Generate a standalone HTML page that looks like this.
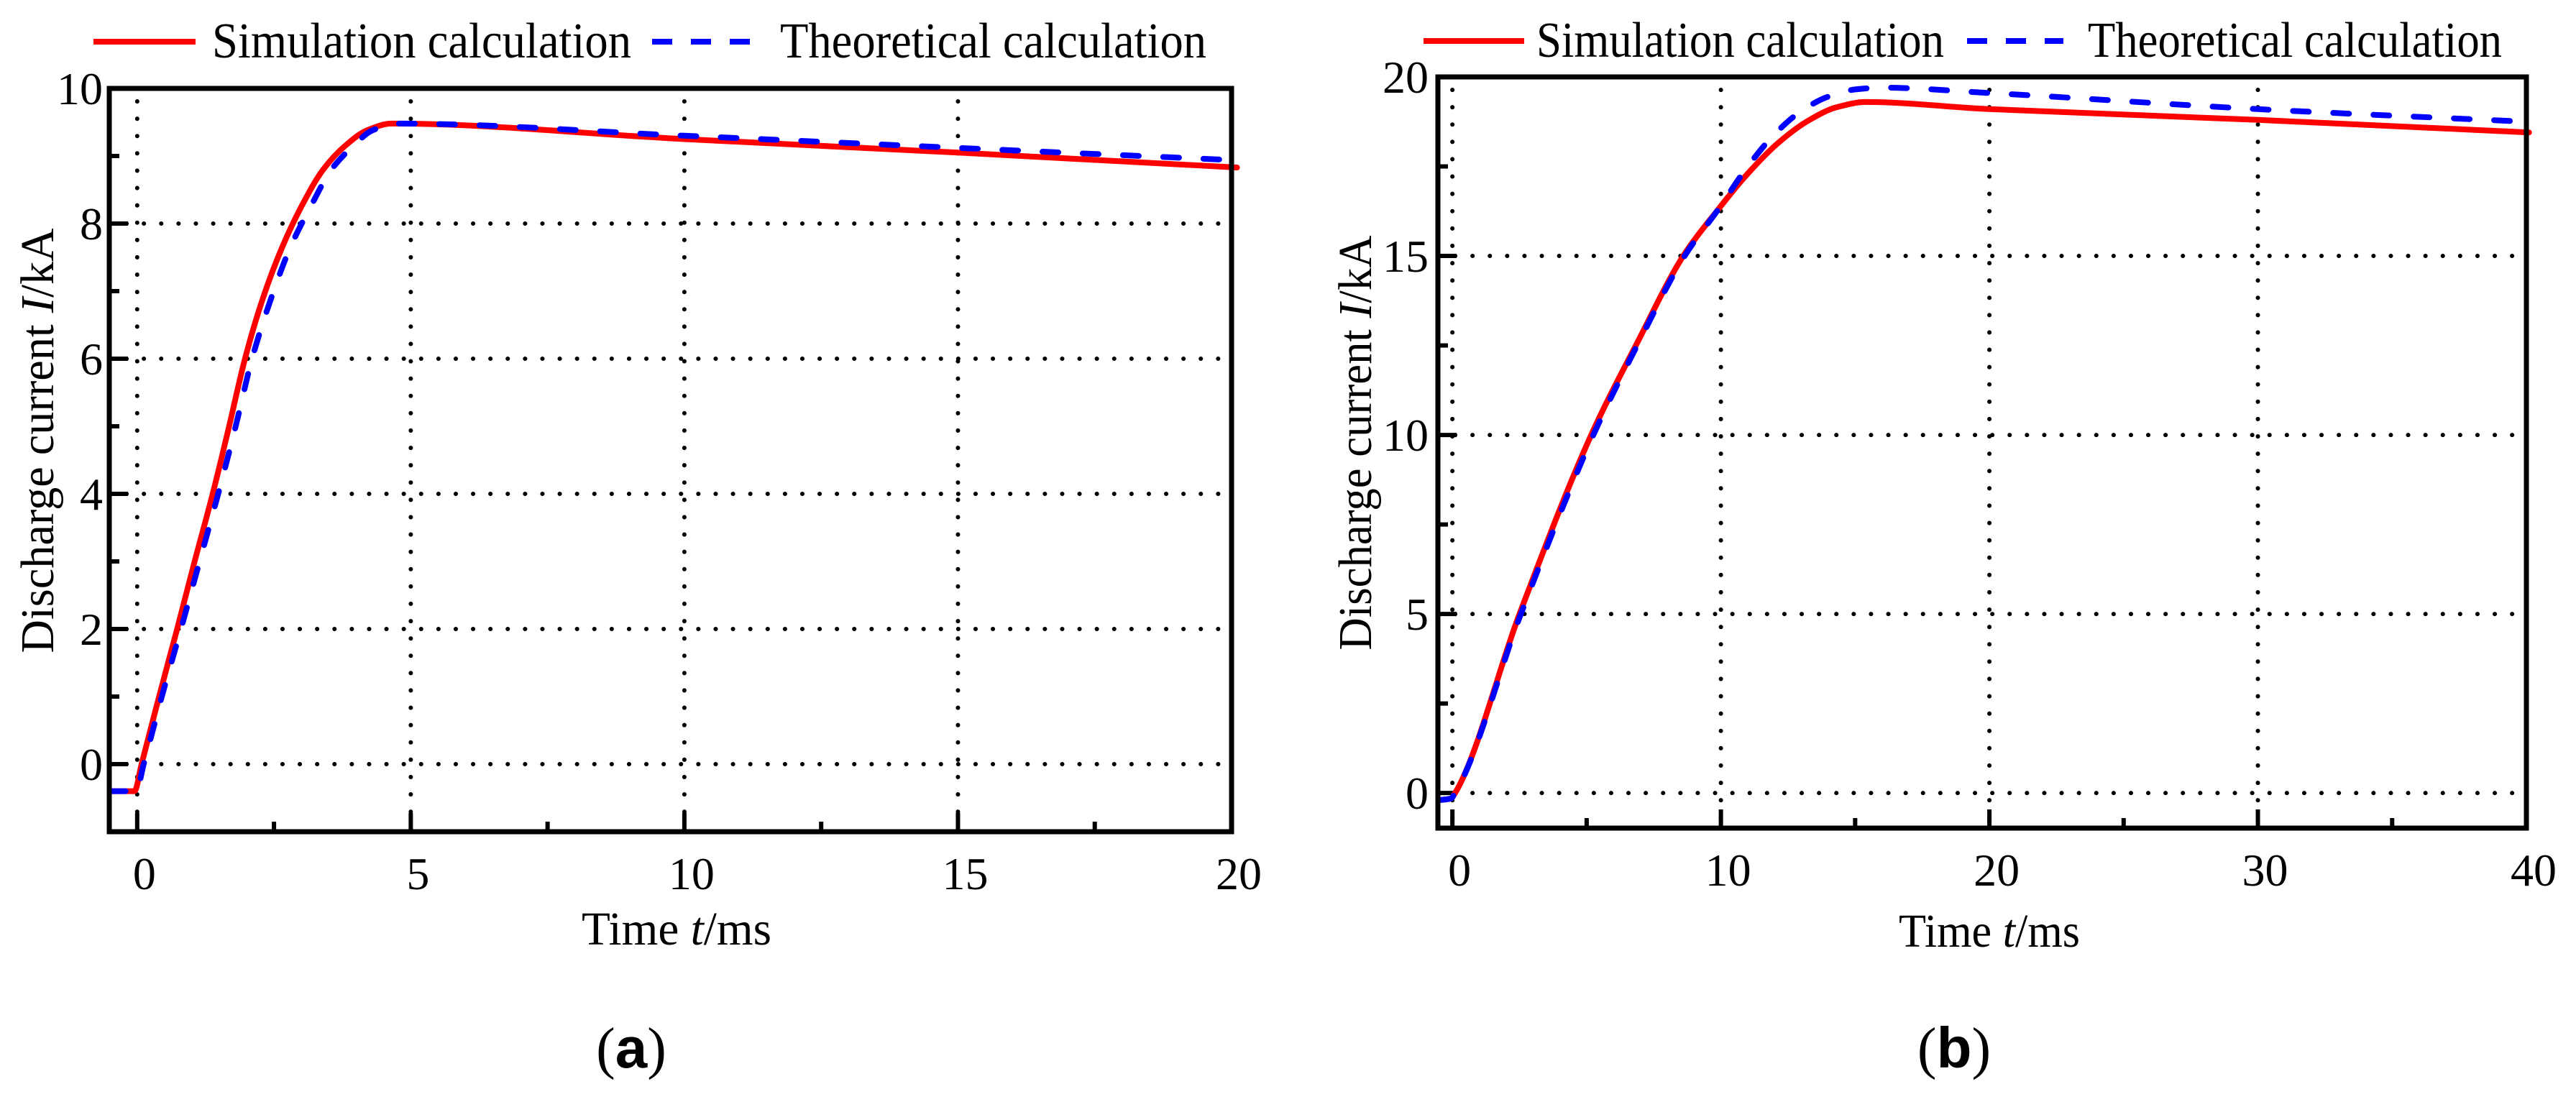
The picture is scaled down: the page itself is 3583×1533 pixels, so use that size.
<!DOCTYPE html>
<html><head><meta charset="utf-8"><style>
html,body{margin:0;padding:0;background:#fff;}
svg{display:block;}
text{font-family:"Liberation Serif",serif;fill:#000;}
</style></head><body>
<svg id="fig" width="3583" height="1533" viewBox="0 0 3583 1533" xmlns="http://www.w3.org/2000/svg"></svg>
<script>
// ---- Chart (a) data ----
const aSimT = [-0.5,-0.05,0.08,0.4,0.73,1.05,1.38,1.68,1.97,2.3,2.65,3.0,3.4,3.8,4.2,4.65,10,15,20.1];
const aSimI = [-0.4,-0.4,0,1.0,2,3,4,5,6,6.9,7.65,8.25,8.8,9.15,9.38,9.48,9.25,9.05,8.83];
const aTheoT = [-0.5,-0.02,0.12,0.45,0.8,1.14,1.48,1.8,2.1,2.45,2.8,3.17,3.55,3.95,4.3,4.75,10,15,20];
const aTheoI = [-0.4,-0.4,0,1.0,2,3,4,5,6,6.9,7.65,8.25,8.8,9.15,9.38,9.48,9.3,9.12,8.94];
const aXTicks = [0,5,10,15,20];
const aYTicks = [0,2,4,6,8,10];
// ---- Chart (b) data ----
const bSimT = [-0.5,-0.05,0.1,2.5,5.17,6.9,8.6,9.9,11,12.2,13.3,14.3,15.4,20,30,40.1];
const bSimI = [-0.2,-0.15,0,5,10,12.6,15,16.3,17.3,18.2,18.8,19.15,19.3,19.1,18.8,18.45];
const bTheoT = [-0.5,-0.05,0.1,2.55,5.25,6.95,8.65,9.9,11,12,13,14,15,16,20,30,40];
const bTheoI = [-0.2,-0.15,0,5,10,12.6,15,16.3,17.5,18.4,19.05,19.45,19.65,19.7,19.55,19.1,18.75];
const bXTicks = [0,10,20,30,40];
const bYTicks = [0,5,10,15,20];

const NS = "http://www.w3.org/2000/svg";
const svg = document.getElementById('fig');
function mk(tag, attrs, parent){
  const e = document.createElementNS(NS, tag);
  for (const k in attrs) e.setAttribute(k, attrs[k]);
  (parent||svg).appendChild(e);
  return e;
}
// monotone cubic (Fritsch-Carlson) path, no overshoot
function monoPath(P){
  const n = P.length, dx = [], s = [], m = [];
  for (let i = 0; i < n-1; i++) { dx[i] = P[i+1][0]-P[i][0]; s[i] = (P[i+1][1]-P[i][1])/dx[i]; }
  m[0] = s[0]; m[n-1] = s[n-2];
  for (let i = 1; i < n-1; i++) {
    if (s[i-1]*s[i] <= 0) m[i] = 0;
    else { const w1 = 2*dx[i]+dx[i-1], w2 = dx[i]+2*dx[i-1]; m[i] = (w1+w2)/(w1/s[i-1]+w2/s[i]); }
  }
  let d = 'M' + P[0][0].toFixed(1) + ',' + P[0][1].toFixed(1);
  for (let i = 0; i < n-1; i++) {
    const h = dx[i]/3;
    d += ` C${(P[i][0]+h).toFixed(1)},${(P[i][1]+m[i]*h).toFixed(1)} ${(P[i+1][0]-h).toFixed(1)},${(P[i+1][1]-m[i+1]*h).toFixed(1)} ${P[i+1][0].toFixed(1)},${P[i+1][1].toFixed(1)}`;
  }
  return d;
}

function chart(cfg){
  const g = mk('g', {});
  
  
  const sx = v => cfg.x0 + (v - cfg.xmin) / (cfg.xmax - cfg.xmin) * (cfg.x1 - cfg.x0);
  const sy = v => cfg.y1 - (v - cfg.ymin) / (cfg.ymax - cfg.ymin) * (cfg.y1 - cfg.y0);
  cfg.xTicks.forEach(t => {
    if (sx(t) < cfg.x1 - 5) {
      const l = mk('line', {x1:sx(t), x2:sx(t), y1:cfg.y0+18, y2:cfg.y1, stroke:'#000','stroke-width':6,'stroke-linecap':'round','stroke-dasharray':'0.1 24'}, g);
      
      
    }
  });
  cfg.yTicks.forEach(t => {
    if (sy(t) > cfg.y0 + 5) {
      const l = mk('line', {x1:cfg.x0+24, x2:cfg.x1, y1:sy(t), y2:sy(t), stroke:'#000','stroke-width':6,'stroke-linecap':'round','stroke-dasharray':'0.1 24'}, g);
      
      
    }
  });
  for (let v = cfg.xTicks[0]; v <= cfg.xmax; v += cfg.xMinor) {
    const l = mk('line', {x1:sx(v), x2:sx(v), y1:cfg.y1, y2:cfg.y1 - (cfg.xTicks.includes(v)?26:14), stroke:'#000','stroke-width':6}, g);
    
    
  }
  for (let v = cfg.yTicks[0]; v <= cfg.ymax; v += cfg.yMinor) {
    const l = mk('line', {x1:cfg.x0, x2:cfg.x0 + (cfg.yTicks.includes(v)?26:14), y1:sy(v), y2:sy(v), stroke:'#000','stroke-width':6}, g);
    
    
  }
  const pts = (T, I) => T.map((t,i) => [sx(t), sy(I[i])]);
  const sim = mk('path', {d:monoPath(pts(cfg.simT, cfg.simI)), fill:'none', stroke:'#ff0000','stroke-width':8,'stroke-linejoin':'round','stroke-linecap':'round'}, g);
  
  
  const th = mk('path', {d:monoPath(pts(cfg.thT, cfg.thI)), fill:'none', stroke:'#0000ff','stroke-width':8,'stroke-linejoin':'round','stroke-linecap':'round','stroke-dasharray':'22 34'}, g);
  
  
  const fr = mk('rect', {x:cfg.x0, y:cfg.y0, width:cfg.x1-cfg.x0, height:cfg.y1-cfg.y0, fill:'none', stroke:'#000','stroke-width':7}, g);
  
  
  cfg.xTicks.forEach(t => {
    const tx = mk('text', {x:sx(t)+10, y:cfg.y1+80, 'font-size':64, 'text-anchor':'middle'}, g);
    tx.textContent = t;
    
    
  });
  cfg.yTicks.forEach(t => {
    const tx = mk('text', {x:cfg.yLabX, y:sy(t)+22, 'font-size':64, 'text-anchor':'end'}, g);
    tx.textContent = t;
    
    
  });
  const xt = mk('text', {x:cfg.xTitleX, y:cfg.xTitleY, 'font-size':66, textLength:cfg.xTitleW, lengthAdjust:'spacingAndGlyphs'}, g);
  xt.innerHTML = 'Time <tspan font-style="italic">t</tspan>/ms';
  
  
  const yt = mk('text', {x:0, y:0, 'font-size':66, 'text-anchor':'middle', textLength:cfg.yTitleW, lengthAdjust:'spacingAndGlyphs', transform:`translate(${cfg.yTitleX},${cfg.yTitleY}) rotate(-90)`}, g);
  yt.innerHTML = 'Discharge current <tspan font-style="italic">I</tspan>/kA';
  
  
  const lg = mk('g', {}, g);
  
  
  const L = cfg.leg;
  const l1 = mk('line', {x1:L[0], x2:L[1], y1:L[8], y2:L[8], stroke:'#ff0000','stroke-width':8}, lg);
  
  
  const t1 = mk('text', {x:L[2], y:L[8]+22, 'font-size':70, textLength:L[3]-L[2], lengthAdjust:'spacingAndGlyphs'}, lg);
  t1.textContent = 'Simulation calculation';
  
  
  const l2 = mk('line', {x1:L[4], x2:L[5], y1:L[8], y2:L[8], stroke:'#0000ff','stroke-width':8,'stroke-dasharray':'28 26'}, lg);
  
  
  const t2 = mk('text', {x:L[6], y:L[8]+22, 'font-size':70, textLength:L[7]-L[6], lengthAdjust:'spacingAndGlyphs'}, lg);
  t2.textContent = 'Theoretical calculation';
  
  
  const pl = mk('text', {x:cfg.panelX, y:1485, 'font-size':80, 'text-anchor':'middle'}, g);
  pl.innerHTML = '(<tspan font-weight="bold" font-family="Liberation Sans, sans-serif">' + cfg.panel + '</tspan>)';
  
  
}

chart({name:'chart-a', x0:152, x1:1713, y0:123, y1:1157, xmin:-0.51, xmax:20, ymin:-1, ymax:10,
  xTicks:aXTicks, yTicks:aYTicks, xMinor:2.5, yMinor:1,
  simT:aSimT, simI:aSimI, thT:aTheoT, thI:aTheoI, yLabX:143,
  xTitleX:809, xTitleY:1314, xTitleW:264, yTitleX:74, yTitleY:613, yTitleW:591,
  leg:[130,272,295,878,907,1050,1085,1678,58], panelX:878, panel:'a'});
chart({name:'chart-b', x0:2000, x1:3514, y0:107, y1:1152, xmin:-0.54, xmax:40, ymin:-0.98, ymax:20,
  xTicks:bXTicks, yTicks:bYTicks, xMinor:5, yMinor:2.5,
  simT:bSimT, simI:bSimI, thT:bTheoT, thI:bTheoI, yLabX:1987,
  xTitleX:2641, xTitleY:1317, xTitleW:252, yTitleX:1907, yTitleY:616, yTitleW:577,
  leg:[1980,2120,2137,2704,2736,2870,2904,3480,57], panelX:2718, panel:'b'});
</script>
</body></html>
